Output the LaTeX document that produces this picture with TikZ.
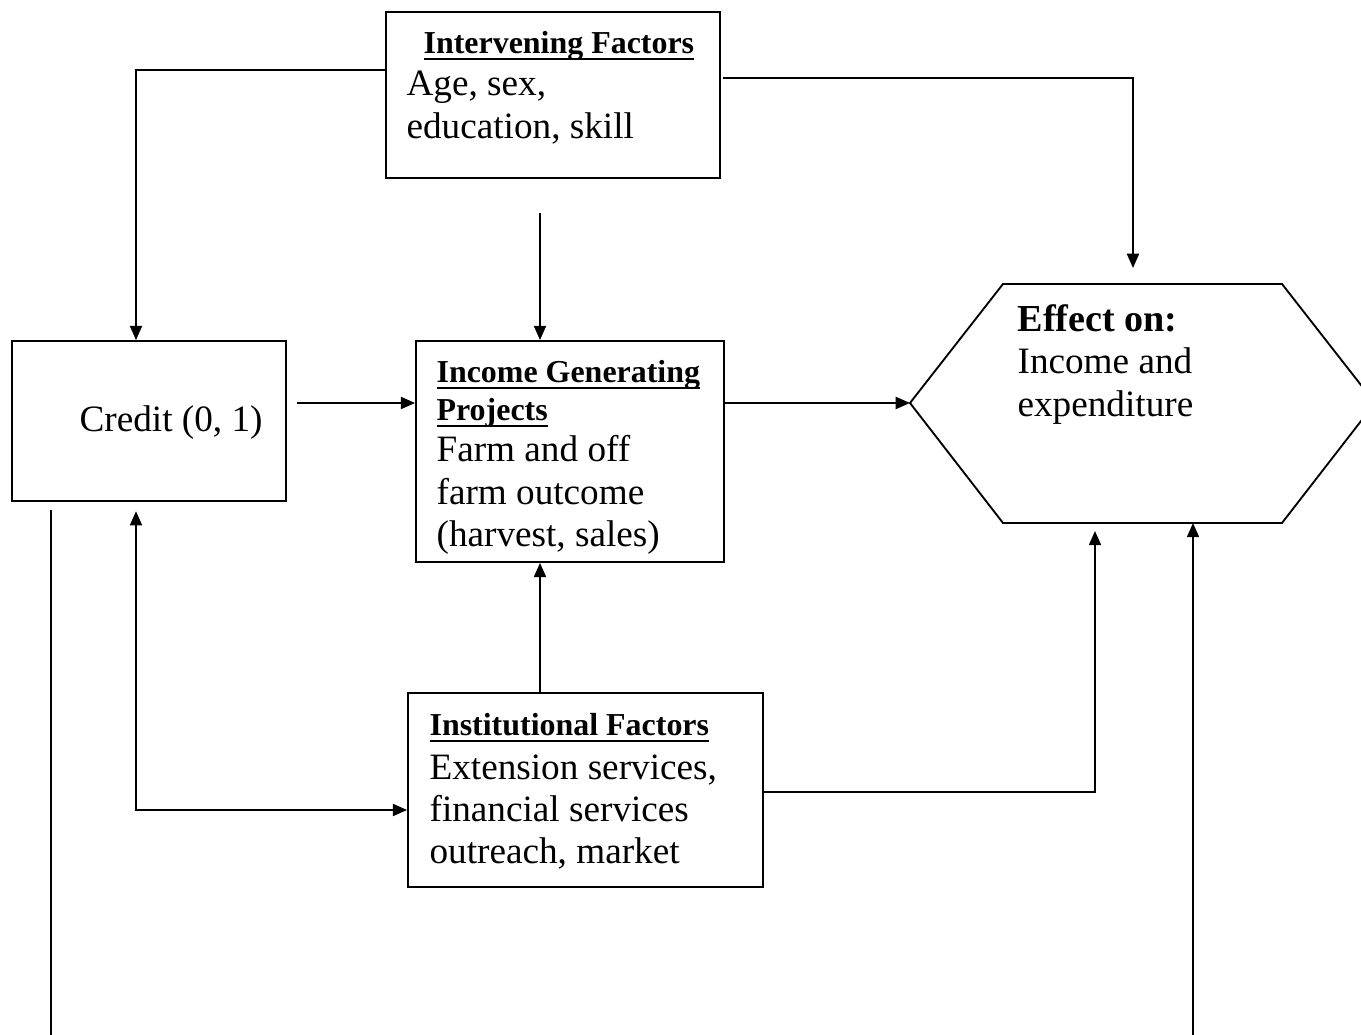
\documentclass[tikz,border=0pt]{standalone}
\usepackage{fontspec}
\setmainfont{Liberation Serif}
\usetikzlibrary{arrows.meta,fit}
\newcommand\hdrul[1]{\setbox0\hbox{#1}\rlap{\vrule width\wd0 height -1.3pt depth 2.0pt}\box0}
\tikzset{
  box/.style={draw, line width=0.6pt, inner sep=0pt},
  arr/.style={line width=0.6pt, -{Triangle[length=4.6pt,width=3.9pt]}},
  arrtwo/.style={line width=0.6pt, {Triangle[length=4.6pt,width=3.9pt]}-{Triangle[length=4.6pt,width=3.9pt]}},
  plain/.style={line width=0.6pt},
  txt/.style={anchor=base west, inner sep=0pt, font=\fontsize{12}{14}\selectfont},
  hdr/.style={anchor=base west, inner sep=0pt, font=\fontsize{10.3}{12}\selectfont\bfseries},
  hdrbig/.style={anchor=base west, inner sep=0pt, font=\fontsize{12.3}{14}\selectfont\bfseries}
}
\begin{document}
\begin{tikzpicture}[x=0.3225pt,y=-0.3225pt]
\useasboundingbox (0,0) rectangle (1361,1035);
% boxes
\coordinate (iA) at (386,12); \coordinate (iB) at (720,178);
\node[box, fit=(iA)(iB)] (interv) {};
\coordinate (cA) at (12,341); \coordinate (cB) at (286,501);
\node[box, fit=(cA)(cB)] (credit) {};
\coordinate (gA) at (416,341); \coordinate (gB) at (724,562);
\node[box, fit=(gA)(gB)] (igp) {};
\coordinate (nA) at (408,693); \coordinate (nB) at (763,887);
\node[box, fit=(nA)(nB)] (inst) {};
% hexagon
\coordinate (hexL) at (910,403);
\coordinate (hexTL) at (1003,284);
\coordinate (hexTR) at (1282,284);
\coordinate (hexR) at (1375,403);
\coordinate (hexBR) at (1282,523);
\coordinate (hexBL) at (1003,523);
\draw[plain] (hexL) -- (hexTL) -- (hexTR) -- (hexR) -- (hexBR) -- (hexBL) -- cycle;
% texts
\node[hdr] (t1) at (423,54) {\hdrul{Intervening Factors}};
\node[txt] (t2) at (406,96) {Age, sex,};
\node[txt] (t3) at (406,139) {education, skill};
\node[txt] (t4) at (79,432) {Credit (0, 1)};
\node[hdr] (t5) at (436,383) {\hdrul{Income Generating}};
\node[hdr] (t6) at (436,421) {\hdrul{Projects}};
\node[txt] (t7) at (436,462) {Farm and off};
\node[txt] (t8) at (436,505) {farm outcome};
\node[txt] (t9) at (436,547) {(harvest, sales)};
\node[hdr] (t10) at (429,736) {\hdrul{Institutional Factors}};
\node[txt] (t11) at (429,780) {Extension services,};
\node[txt] (t12) at (429,822) {financial services};
\node[txt] (t13) at (429,864) {outreach, market};
\node[hdrbig] (t14) at (1017,332) {Effect on:};
\node[txt] (t15) at (1017,374) {Income and};
\node[txt] (t16) at (1017,417) {expenditure};
% connector helpers
\coordinate (yA) at (0,70);
\coordinate (xA) at (136,0);
\coordinate (yB) at (0,78);
\coordinate (effTop) at (1133,268);
\coordinate (s3) at (540,213);
\coordinate (yC) at (0,403);
\coordinate (yD) at (0,810);
\coordinate (yE) at (0,792);
\coordinate (xE) at (1095,531);
\coordinate (l1) at (51,510);
\coordinate (l2) at (51,1045);
\coordinate (r1) at (1193,1045);
\coordinate (hexB) at (1193,523);
% connectors
\draw[arr] (interv.west |- yA) -| (credit.north -| xA);
\draw[arr] ([xshift=0.6pt]interv.east |- yB) -| (effTop);
\draw[arr] (s3) -- (igp.north -| s3);
\draw[arr] ([xshift=3.2pt]credit.east |- yC) -- (igp.west |- yC);
\draw[arr] (igp.east |- yC) -- (hexL);
\draw[arr] (inst.north -| s3) -- (igp.south -| s3);
\draw[arrtwo] ([yshift=-3pt]credit.south -| xA) |- (inst.west |- yD);
\draw[arr] (inst.east |- yE) -| (xE);
\draw[plain] (l1) -- (l2);
\draw[arr] (r1) -- (hexB);
\end{tikzpicture}
\end{document}
